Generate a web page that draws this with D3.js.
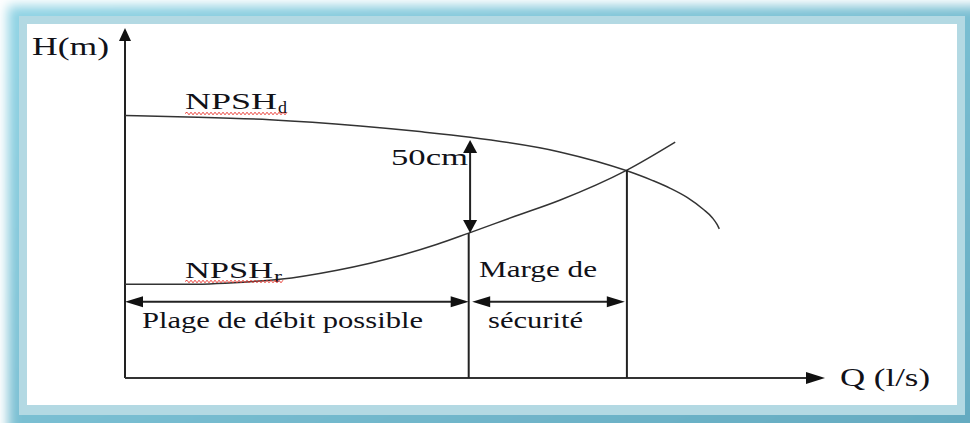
<!DOCTYPE html>
<html>
<head>
<meta charset="utf-8">
<script src="https://cdn.jsdelivr.net/npm/d3@7"></script>
<style>
html,body{margin:0;padding:0;background:#fff;}
svg{display:block;}
text{font-family:"Liberation Serif","Times New Roman",serif;fill:#111118;}
</style>
</head>
<body>
<svg id="chart" width="970" height="423"></svg>
<script>
// ---- data (schematic units: Q in l/s, H in m) ----
const npshdQ = [0, 0.89, 2.07, 3.36, 4.21, 4.93, 6.21, 7.17, 7.54, 7.79, 8.03, 8.26, 8.39, 8.46, 8.49];
const npshdH = [3.75, 3.73, 3.69, 3.60, 3.52, 3.44, 3.23, 2.96, 2.82, 2.71, 2.58, 2.41, 2.29, 2.19, 2.13];
const npshrQ = [0, 0.93, 1.83, 2.21, 3.03, 3.50, 3.97, 4.46, 4.91, 5.57, 6.21, 7.17, 7.86];
const npshrH = [1.34, 1.34, 1.38, 1.41, 1.54, 1.64, 1.76, 1.91, 2.07, 2.31, 2.54, 2.97, 3.37];
const limitQ = [4.91, 7.17];          // max usable flow, crossing point
const limitH = [2.07, 2.97];          // NPSHr at those flows
const marginQ = 4.93;                 // where the 50cm gap is shown
const marginH = [3.40, 2.07];
const rangeArrowH = 1.09;
const rangeSpans = [[0, 4.91], [4.96, 7.14]];
const axisMax = {q: 10, h: 5};

const svg = d3.select("#chart");
const W = 970, H = 423;

// ---- frame (blue glow border) ----
const defs = svg.append("defs");
const blur = defs.append("filter").attr("id","glow").attr("x","-10%").attr("y","-10%").attr("width","120%").attr("height","120%");
blur.append("feGaussianBlur").attr("stdDeviation",6);
const g2 = defs.append("linearGradient").attr("id","glowGrad").attr("x1","0").attr("y1","0").attr("x2","1").attr("y2","1");
g2.append("stop").attr("offset","0").attr("stop-color","#8fd3e4");
g2.append("stop").attr("offset","1").attr("stop-color","#63a9bf");
svg.append("rect").attr("x",8).attr("y",6).attr("width",W+20).attr("height",H+20)
  .attr("fill","url(#glowGrad)").attr("filter","url(#glow)");
svg.append("rect").attr("x",19).attr("y",16).attr("width",946).attr("height",399).attr("fill","#b3d9e3");
svg.append("rect").attr("x",27).attr("y",24).attr("width",930).attr("height",381).attr("fill","#ffffff");

// ---- scales ----
const x = d3.scaleLinear().domain([0, axisMax.q]).range([125, 825]);
const y = d3.scaleLinear().domain([0, axisMax.h]).range([378, 28]);

const ink = "#222";
function arrowHead(tipX, tipY, dir, len, half) {
  let pts;
  if (dir === "up") pts = [[tipX,tipY],[tipX-half,tipY+len],[tipX+half,tipY+len]];
  if (dir === "down") pts = [[tipX,tipY],[tipX-half,tipY-len],[tipX+half,tipY-len]];
  if (dir === "left") pts = [[tipX,tipY],[tipX+len,tipY-half],[tipX+len,tipY+half]];
  if (dir === "right") pts = [[tipX,tipY],[tipX-len,tipY-half],[tipX-len,tipY+half]];
  svg.append("path").attr("d","M"+pts.map(p=>p.join(",")).join("L")+"Z").attr("fill","#111");
}

// axes
svg.append("line").attr("x1",x(0)).attr("x2",x(0)).attr("y1",y(0)).attr("y2",y(axisMax.h)+10)
  .attr("stroke",ink).attr("stroke-width",2);
arrowHead(x(0), y(axisMax.h), "up", 13, 6);
svg.append("line").attr("x1",x(0)).attr("x2",x(axisMax.q)-10).attr("y1",y(0)).attr("y2",y(0))
  .attr("stroke","#333").attr("stroke-width",2.2);
arrowHead(x(axisMax.q), y(0), "right", 19, 6);

// curves
const line = d3.line().x(d=>x(d[0])).y(d=>y(d[1])).curve(d3.curveMonotoneX);
svg.append("path").attr("d", line(npshdQ.map((q,i)=>[q,npshdH[i]])))
  .attr("fill","none").attr("stroke","#333").attr("stroke-width",1.5);
svg.append("path").attr("d", line(npshrQ.map((q,i)=>[q,npshrH[i]])))
  .attr("fill","none").attr("stroke","#333").attr("stroke-width",1.5);

// vertical limit lines
limitQ.forEach((q,i)=>{
  svg.append("line").attr("x1",x(q)).attr("x2",x(q)).attr("y1",y(0)).attr("y2",y(limitH[i]))
    .attr("stroke",ink).attr("stroke-width",2);
});

// 50cm double arrow
svg.append("line").attr("x1",x(marginQ)).attr("x2",x(marginQ)).attr("y1",y(marginH[0])+8).attr("y2",y(marginH[1])-8)
  .attr("stroke",ink).attr("stroke-width",2);
arrowHead(x(marginQ), y(marginH[0]), "up", 13, 7);
arrowHead(x(marginQ), y(marginH[1]), "down", 13, 7);

// horizontal double arrows
rangeSpans.forEach(s=>{
  svg.append("line").attr("x1",x(s[0])+8).attr("x2",x(s[1])-8).attr("y1",y(rangeArrowH)).attr("y2",y(rangeArrowH))
    .attr("stroke",ink).attr("stroke-width",2);
  arrowHead(x(s[0]), y(rangeArrowH), "left", 18, 5.5);
  arrowHead(x(s[1]), y(rangeArrowH), "right", 18, 5.5);
});

// ---- labels ----
function label(txt, px, py, size, len) {
  const t = svg.append("text").attr("x",px).attr("y",py).attr("font-size",size).text(txt);
  if (len) t.attr("textLength",len).attr("lengthAdjust","spacingAndGlyphs");
  return t;
}
function wavy(x0, x1, yy) {
  let d = "M"+x0+","+yy;
  let up = true;
  for (let xx = x0+2; xx <= x1; xx += 2) { d += "L"+xx+","+(yy + (up?-1.3:1.3)); up = !up; }
  svg.append("path").attr("d",d).attr("fill","none").attr("stroke","#e8342c").attr("stroke-width",0.9);
}

label("H(m)", 32, 55, 26, 77);
label("NPSH", 185, 109, 24, 92);
label("d", 278, 113, 16, 9);
wavy(185, 288, 113.5);
label("NPSH", 185, 278, 24, 88);
label("r", 274, 282, 16, 8);
wavy(185, 284, 281.5);
label("50cm", 391, 165, 24, 77);
label("Marge de", 479, 277, 24, 118);
label("Plage  de débit possible", 142, 328, 24, 281);
label("sécurité", 488, 328, 24, 95);
label("Q (l/s)", 840, 386, 25, 90);
</script>
</body>
</html>
